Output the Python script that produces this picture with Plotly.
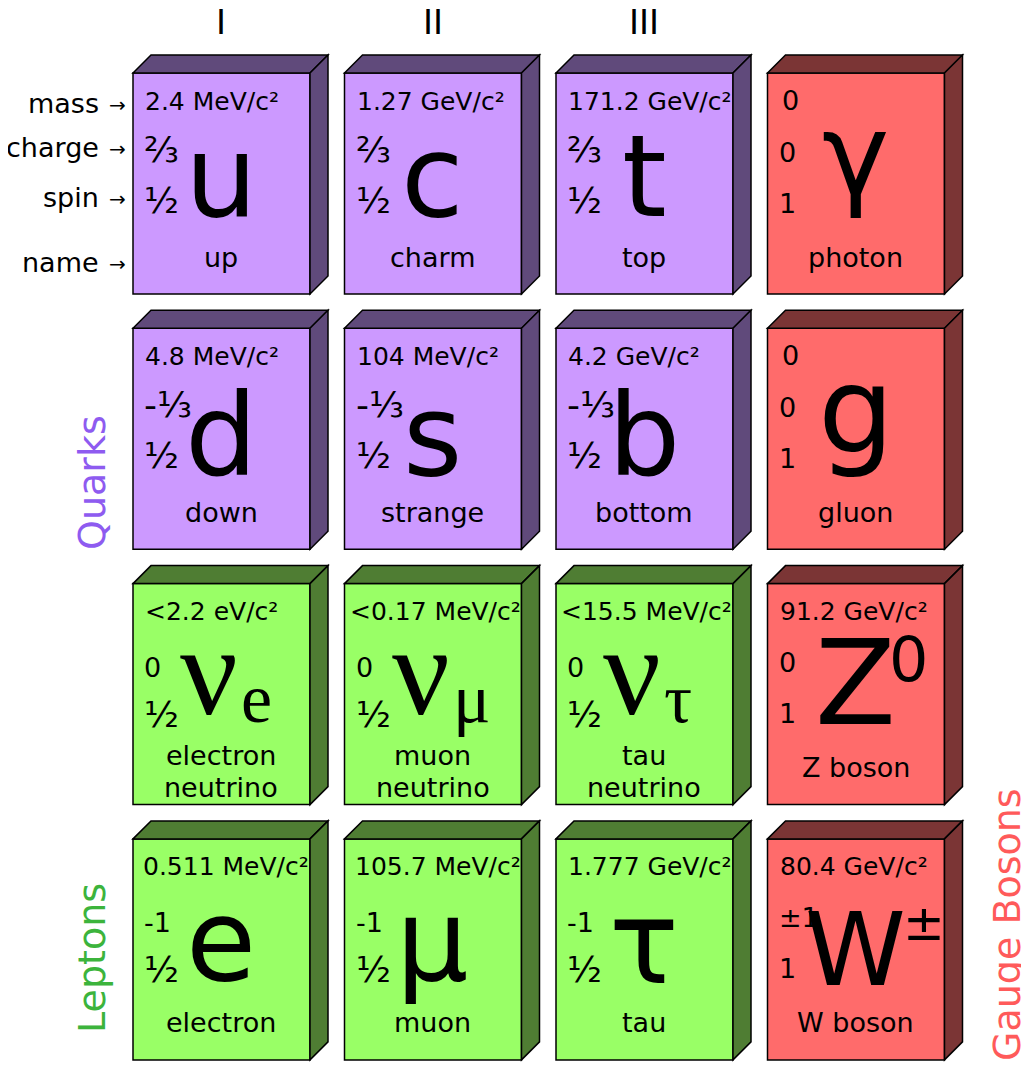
import plotly.graph_objects as go

# ---- data -------------------------------------------------------------
generations = ["I", "II", "III"]
row_labels = ["mass", "charge", "spin", "name"]
group_labels = ["Quarks", "Leptons", "Gauge Bosons"]

kinds = ["quark", "quark", "quark", "boson",
         "quark", "quark", "quark", "boson",
         "lepton", "lepton", "lepton", "boson",
         "lepton", "lepton", "lepton", "boson"]
symbols = ["u", "c", "t", "γ",
           "d", "s", "b", "g",
           "ν_e", "ν_μ", "ν_τ", "Z^0",
           "e", "μ", "τ", "W^±"]
names = ["up", "charm", "top", "photon",
         "down", "strange", "bottom", "gluon",
         "electron<br>neutrino", "muon<br>neutrino", "tau<br>neutrino", "Z boson",
         "electron", "muon", "tau", "W boson"]
masses = ["2.4 MeV", "1.27 GeV", "171.2 GeV", "0",
          "4.8 MeV", "104 MeV", "4.2 GeV", "0",
          "<2.2 eV", "<0.17 MeV", "<15.5 MeV", "91.2 GeV",
          "0.511 MeV", "105.7 MeV", "1.777 GeV", "80.4 GeV"]
charges = ["⅔", "⅔", "⅔", "0",
           "-⅓", "-⅓", "-⅓", "0",
           "0", "0", "0", "0",
           "-1", "-1", "-1", "±1"]
spins = ["½", "½", "½", "1",
         "½", "½", "½", "1",
         "½", "½", "½", "1",
         "½", "½", "½", "1"]

# ---- style ------------------------------------------------------------
FRONT = {"quark": "#CC99FF", "lepton": "#99FF66", "boson": "#FF6B6B"}
SIDE = {"quark": "#604A7B", "lepton": "#4F7D33", "boson": "#7B3535"}
GROUP_COLOR = {"Quarks": "#8E5BF0", "Leptons": "#3CB43C", "Gauge Bosons": "#FF5A5A"}
SANS = "DejaVu Sans"
SERIF = "Liberation Serif"

W, H, D = 1029, 1068, 18
PAGE = 8                      # body margin of the html page
BOX_W, BOX_H = 177, 221
COL_X = 133
COL_STEP = 211.5
ROW_Y = 73
ROW_STEP = 255.3
MASS_SIZE = 25

# DejaVu Sans advance widths (em) for mass strings
ADV = {"0": .636, "1": .636, "2": .636, "3": .636, "4": .636, "5": .636,
       "6": .636, "7": .636, "8": .636, "9": .636, ".": .318, " ": .318,
       "<": .838, "M": .863, "G": .775, "e": .615, "V": .684, "/": .337, "c": .55}

# per-symbol tweaks: baseline offset from box top, font size, family, centre x
SYM_STYLE = {
    "γ": dict(base=121, size=114),
    "g": dict(base=124, size=120),
    "τ": dict(base=144, size=116),
    "ν": dict(base=132, size=128, family=SERIF, cx=76),
    "Z": dict(base=140, size=118),
    "W": dict(base=146, size=102),
    "e": dict(base=141),
    "μ": dict(base=141),
    "d": dict(base=147), "s": dict(base=147), "b": dict(base=147),
}
CS_OFFSET = {"quark": (76, 127), "boson": (79, 130), "lepton": (84, 131)}

fig = go.Figure()


def add_text(x, y, text, size, family=SANS, color="black", xanchor="center",
             angle=0):
    fig.add_annotation(x=x, y=y, text=text, showarrow=False, xanchor=xanchor,
                       yanchor="middle", textangle=angle,
                       font=dict(size=size, family=family, color=color))


def at_baseline(base, size):
    # annotation is centred on its font box; shift so the baseline lands on `base`
    return base - 0.346 * size


def draw_box(x0, y0, kind):
    x1, y1 = x0 + BOX_W, y0 + BOX_H
    line = dict(color="black", width=1.5)
    fig.add_shape(type="path", path=f"M{x0},{y0} L{x1},{y0} L{x1},{y1} L{x0},{y1} Z",
                  fillcolor=FRONT[kind], line=line)
    fig.add_shape(type="path",
                  path=f"M{x0},{y0} L{x0 + D},{y0 - D} L{x1 + D},{y0 - D} L{x1},{y0} Z",
                  fillcolor=SIDE[kind], line=line)
    fig.add_shape(type="path",
                  path=f"M{x1},{y0} L{x1 + D},{y0 - D} L{x1 + D},{y1 - D} L{x1},{y1} Z",
                  fillcolor=SIDE[kind], line=line)


def frac_size(s):
    return 36 if any(ch in s for ch in "⅔⅓½") else 27


for i, kind in enumerate(kinds):
    r, c = divmod(i, 4)
    x0 = COL_X + c * COL_STEP
    y0 = ROW_Y + r * ROW_STEP
    draw_box(x0, y0, kind)

    # mass
    if masses[i] == "0":
        add_text(x0 + 12, y0 + 27, "0", 27, xanchor="left")
    else:
        est = sum(ADV.get(ch, .6) for ch in masses[i] + "/c") * MASS_SIZE + 9
        left = x0 + min(10, BOX_W - 4 - est)
        txt = masses[i].replace("<", "&lt;") + "/c²"
        add_text(left, y0 + 28, txt, MASS_SIZE, xanchor="left")

    # charge / spin
    cy, sy = CS_OFFSET[kind]
    add_text(x0 + 9, y0 + cy, charges[i], frac_size(charges[i]), xanchor="left")
    add_text(x0 + 9, y0 + sy, spins[i], frac_size(spins[i]), xanchor="left")

    # symbol
    sym = symbols[i]
    base_ch, mod = sym[0], sym[2:] if len(sym) > 2 else ""
    st = dict(base=143, size=114, family=SANS, cx=88)
    st.update(SYM_STYLE.get(base_ch, {}))
    add_text(x0 + st["cx"], at_baseline(y0 + st["base"], st["size"]), base_ch,
             st["size"], family=st["family"])
    if sym[1:2] == "_":
        add_text(x0 + 106, at_baseline(y0 + 139, 70), mod, 70, family=SERIF,
                 xanchor="left")
    elif sym[1:2] == "^":
        if mod == "0":
            add_text(x0 + 119, at_baseline(y0 + 97, 62), mod, 62, xanchor="left")
        else:
            add_text(x0 + 133, at_baseline(y0 + 101, 50), mod, 50, xanchor="left")

    # name (one or two lines, 32 px apart)
    lines = names[i].split("<br>")
    if len(lines) == 1:
        add_text(x0 + 88, y0 + 184, lines[0], 27)
    else:
        add_text(x0 + 88, y0 + 172, lines[0], 27)
        add_text(x0 + 88, y0 + 204, lines[1], 27)

# column headers
for c, g in enumerate(generations):
    add_text(COL_X + c * COL_STEP + 88, 22, g, 34)

# row labels with arrows
for lab, y in zip(row_labels, [103, 147, 197, 262]):
    add_text(101, y, lab, 27, xanchor="right")
    add_text(117, y + 2, "→", 20)

# group labels
add_text(92, 483, group_labels[0], 38, color=GROUP_COLOR["Quarks"], angle=-90)
add_text(92, 958, group_labels[1], 38, color=GROUP_COLOR["Leptons"], angle=-90)
add_text(1007, 925, group_labels[2], 38, color=GROUP_COLOR["Gauge Bosons"], angle=-90)

fig.update_layout(
    width=W - PAGE, height=H - PAGE,
    margin=dict(l=0, r=0, t=0, b=0),
    paper_bgcolor="white", plot_bgcolor="white",
    showlegend=False,
    xaxis=dict(range=[PAGE, W], visible=False, fixedrange=True),
    yaxis=dict(range=[H, PAGE], visible=False, fixedrange=True),
)

fig.write_html("out.html")
